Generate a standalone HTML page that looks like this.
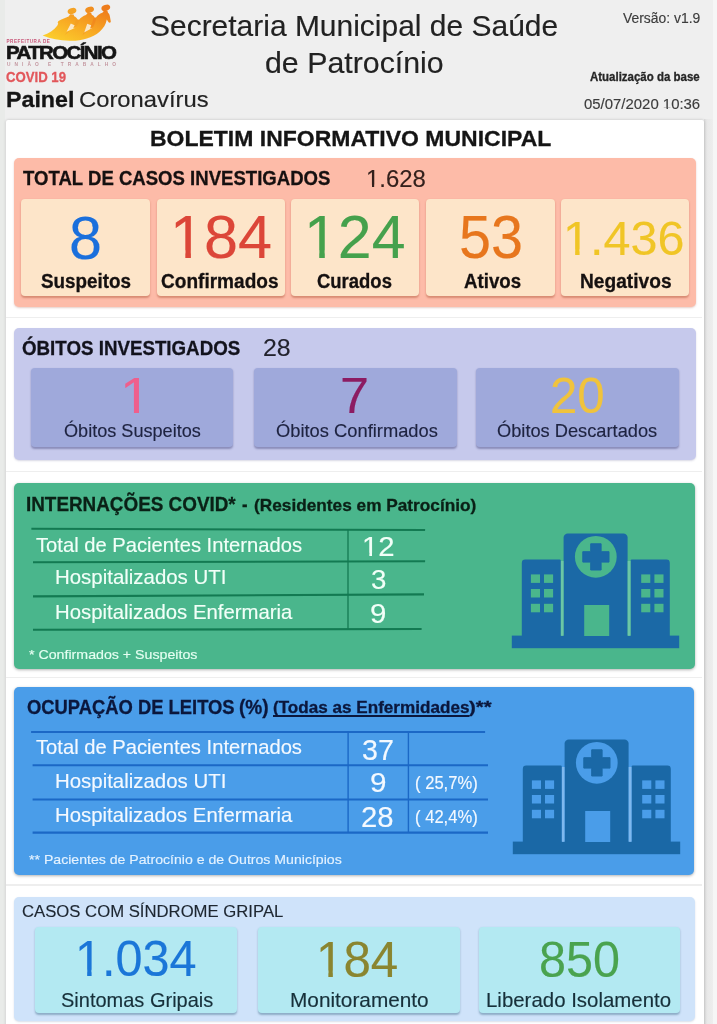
<!DOCTYPE html>
<html><head><meta charset="utf-8"><title>Painel Coronavírus</title>
<style>
*{margin:0;padding:0;box-sizing:border-box}
html,body{width:717px;height:1024px;overflow:hidden;background:#efefef;font-family:"Liberation Sans",sans-serif}
.b{position:absolute}
.t{position:absolute;white-space:nowrap;line-height:1;transform-origin:0 0}
.o{display:inline-block;clip-path:polygon(0 0,100% 0,100% 71.5%,61.4% 71.5%,61.4% 100%,45% 100%,45% 71.5%,0 71.5%)}
</style></head><body><div id="w" style="position:absolute;left:0;top:0;width:717px;height:1024px;overflow:hidden;filter:blur(.45px)">
<div class="b" style="left:0px;top:0px;width:4.5px;height:1024.0px;background:#e9ebe9;border-radius:0px"></div>
<div class="b" style="left:712.5px;top:0px;width:4.5px;height:1024.0px;background:#f6f6f6;border-radius:0px"></div>
<div class="b" style="left:704px;top:119px;width:8.5px;height:905.0px;background:linear-gradient(90deg,#dcdcdc,#e8e8e8 35%,#eeeeee);border-radius:0px"></div>
<div class="b" style="left:5.5px;top:120px;width:698.5px;height:910.0px;background:#ffffff;border-radius:2px;box-shadow:0 0 3px rgba(0,0,0,.22)"></div>
<div class="b" style="left:5.5px;top:316.9px;width:696.5px;height:1.6px;background:#eeeeee;border-radius:0px"></div>
<div class="b" style="left:5.5px;top:470.8px;width:696.5px;height:1.6px;background:#eeeeee;border-radius:0px"></div>
<div class="b" style="left:5.5px;top:676.5px;width:696.5px;height:1.6px;background:#eeeeee;border-radius:0px"></div>
<div class="b" style="left:5.5px;top:884.2px;width:696.5px;height:1.6px;background:#eeeeee;border-radius:0px"></div>
<svg class="b" style="left:0;top:0;filter:blur(.35px)" width="125" height="70" viewBox="0 0 125 70">
<defs><linearGradient id="lg" x1="0" y1="1" x2="1" y2="0"><stop offset="0" stop-color="#fcd62e"/><stop offset=".5" stop-color="#f8ab24"/><stop offset="1" stop-color="#ee7a1b"/></linearGradient></defs>
<path d="M42.6 35.4 C49 33.6 54 30 57.4 25.4 L58.2 23.6 C57.4 22.6 57.6 21.6 59 20.8 C62 19 65.5 17.6 68.6 16.4 L70.2 14.2 L73.6 14.4 L74.2 16.2 C75.6 16.8 76.8 17.8 77.4 19.2 L79 19.8 C80.6 17.6 83.2 16 86 15 L87.6 13 L91.2 13 L91.8 14.8 C93 15.4 94 16.2 94.6 17.4 L96 17.6 C97.4 15.4 99.6 13.8 102.4 12.8 L103.8 11 L107.4 10.8 L108 12.8 C109.2 13.8 109.8 15.2 110 17 L110.8 21.6 C110.6 23.2 109 23 108.2 21.8 L106.8 19.6 C106 24.2 103.4 28.6 99.6 31.8 C92 38.4 80.6 41.2 69.6 40.8 C59.6 40.4 50.6 38.6 42.6 35.4Z" fill="url(#lg)"/>
<path d="M76.2 20 C74 26 70 31 64.6 35.2 L67.4 31.4 L70.6 23.6 L74.4 25 L73.4 27.8 L76 27 C78 24 79 22 79.2 20.2Z" fill="#f39a22" opacity=".55"/>
<path d="M93.6 18 C92 25 88 30.6 82 35.6 L84.6 32.2 L87.4 24 L91.2 25.2 L90.2 28.2 L92.8 27.4 C94.6 24.6 95.6 21.6 96 18.2Z" fill="#ee7f1c" opacity=".55"/>
<path d="M66.6 31.8 L70.8 23.4 L74.6 25.2 L73.2 28.2 L76 27.4 Z M84.2 32.4 L87.2 23.8 L91.2 25.2 L90 28.6 L92.6 27.8 Z" fill="#fbeed6" opacity=".92"/>
<ellipse cx="72" cy="11" rx="4.5" ry="3" fill="#f4a326" transform="rotate(-20 72 11)"/>
<ellipse cx="89.6" cy="9.8" rx="4.5" ry="3" fill="#f18f20" transform="rotate(-20 89.6 9.8)"/>
<ellipse cx="105.8" cy="7.9" rx="4.5" ry="3" fill="#ee7d1c" transform="rotate(-20 105.8 7.9)"/>
</svg>
<div class="t" style="left:6.5px;top:40.4px;font-size:4.6px;font-weight:bold;color:#c9587a;letter-spacing:.55px">PREFEITURA DE</div>
<div class="t" id="patro" style="left:6.2px;top:42.9px;font-size:19.2px;font-weight:bold;color:#151515;letter-spacing:-1.5px;-webkit-text-stroke:.6px #151515;transform:scaleX(1.066)">PATROCÍNIO</div>
<div class="t" style="left:7px;top:62.9px;font-size:4.8px;font-weight:bold;color:#c497a0;letter-spacing:4.05px">UNIÃO E TRABALHO</div>
<div class="b" style="left:14.3px;top:157.6px;width:681.7px;height:149.3px;background:#fdbba8;border-radius:5px;box-shadow:0 1px 2px rgba(150,60,40,.25)"></div>
<div class="b" style="left:21px;top:198.6px;width:128.5px;height:97.0px;background:#fde5c9;border-radius:4px;box-shadow:0 1.5px 2px rgba(170,80,50,.45)"></div>
<div class="b" style="left:156.6px;top:198.6px;width:128.9px;height:97.0px;background:#fde5c9;border-radius:4px;box-shadow:0 1.5px 2px rgba(170,80,50,.45)"></div>
<div class="b" style="left:290.7px;top:198.6px;width:128.8px;height:97.0px;background:#fde5c9;border-radius:4px;box-shadow:0 1.5px 2px rgba(170,80,50,.45)"></div>
<div class="b" style="left:426px;top:198.6px;width:128.6px;height:97.0px;background:#fde5c9;border-radius:4px;box-shadow:0 1.5px 2px rgba(170,80,50,.45)"></div>
<div class="b" style="left:560.6px;top:198.6px;width:128.8px;height:97.0px;background:#fde5c9;border-radius:4px;box-shadow:0 1.5px 2px rgba(170,80,50,.45)"></div>
<div class="b" style="left:14.2px;top:327.7px;width:681.8px;height:132.8px;background:#c6c9ec;border-radius:5px;box-shadow:0 1px 2px rgba(60,60,120,.2)"></div>
<div class="b" style="left:31px;top:367.5px;width:201.6px;height:79.5px;background:#9fa9db;border-radius:4px;box-shadow:0 1.5px 2px rgba(50,50,110,.4)"></div>
<div class="b" style="left:254px;top:367.5px;width:202.8px;height:79.5px;background:#9fa9db;border-radius:4px;box-shadow:0 1.5px 2px rgba(50,50,110,.4)"></div>
<div class="b" style="left:476px;top:367.5px;width:203.2px;height:79.5px;background:#9fa9db;border-radius:4px;box-shadow:0 1.5px 2px rgba(50,50,110,.4)"></div>
<div class="b" style="left:14.2px;top:482.7px;width:680.8px;height:186.3px;background:#4ab68c;border-radius:5px;box-shadow:0 1px 3px rgba(0,0,0,.3)"></div>
<svg class="b" style="left:0;top:520px" width="717" height="120" viewBox="0 520 717 120"><g stroke="#137a52" stroke-width="2.1"><line x1="31.4" y1="528.8" x2="425.1" y2="530"/><line x1="33" y1="562.2" x2="425.1" y2="561.3"/><line x1="33" y1="596.4" x2="424" y2="594.4"/><line x1="33" y1="629.8" x2="421.6" y2="629"/><line x1="348" y1="529" x2="348" y2="629.6" stroke-width="1.3"/></g></svg>
<svg class="b" style="left:0px;top:520px" width="717" height="140" viewBox="0 520 717 140"><rect x="511.8" y="635.6" width="167.4" height="12.6" fill="#1b69a6"/><path d="M521.8 636 V563 a3.4 3.4 0 0 1 3.4 -3.4 H559.6 a1.2 1.2 0 0 1 1.2 1.2 V636Z" fill="#1b69a6"/><path d="M630.6 636 V560.8 a1.2 1.2 0 0 1 1.2 -1.2 H666.4 a3.4 3.4 0 0 1 3.4 3.4 V636Z" fill="#1b69a6"/><path d="M563.6 636 V537.6 a4.2 4.2 0 0 1 4.2 -4.2 H623.4 a4.2 4.2 0 0 1 4.2 4.2 V636Z" fill="#1b69a6"/><rect x="560.9" y="561" width="2.6" height="74.8" fill="#6cc6a6"/><rect x="627.7" y="561" width="2.8" height="74.8" fill="#6cc6a6"/><circle cx="595.8" cy="556.8" r="20.9" fill="#4ab68c"/><path d="M590.7 543.8 h10.4 v7.9 h7.9 v10.4 h-7.9 v7.9 h-10.4 v-7.9 h-7.9 v-10.4 h7.9Z" fill="#1b69a6" stroke="#1b69a6" stroke-width="1" stroke-linejoin="round"/><rect x="584.2" y="605" width="25" height="31" fill="#4ab68c"/><rect x="530.9" y="574.4" width="9.1" height="8.5" fill="#4ab68c"/><rect x="530.9" y="589.0" width="9.1" height="8.5" fill="#4ab68c"/><rect x="530.9" y="603.8" width="9.1" height="8.5" fill="#4ab68c"/><rect x="544.0" y="574.4" width="9.1" height="8.5" fill="#4ab68c"/><rect x="544.0" y="589.0" width="9.1" height="8.5" fill="#4ab68c"/><rect x="544.0" y="603.8" width="9.1" height="8.5" fill="#4ab68c"/><rect x="641.2" y="574.4" width="9.1" height="8.5" fill="#4ab68c"/><rect x="641.2" y="589.0" width="9.1" height="8.5" fill="#4ab68c"/><rect x="641.2" y="603.8" width="9.1" height="8.5" fill="#4ab68c"/><rect x="654.4" y="574.4" width="9.1" height="8.5" fill="#4ab68c"/><rect x="654.4" y="589.0" width="9.1" height="8.5" fill="#4ab68c"/><rect x="654.4" y="603.8" width="9.1" height="8.5" fill="#4ab68c"/></svg>
<div class="b" style="left:14.2px;top:686.8px;width:680.3px;height:187.8px;background:#4a9de9;border-radius:5px;box-shadow:0 1px 3px rgba(0,0,0,.3)"></div>
<svg class="b" style="left:0;top:722px" width="717" height="120" viewBox="0 722 717 120"><g stroke="#1b68c6" stroke-width="2.1"><line x1="31.1" y1="732" x2="485.1" y2="732"/><line x1="32.6" y1="765.2" x2="488" y2="765.2"/><line x1="32.6" y1="799.5" x2="488" y2="799.5"/><line x1="32.6" y1="832.6" x2="488" y2="832.6"/><line x1="348.1" y1="731" x2="348.1" y2="833" stroke-width="1.4"/><line x1="408.4" y1="731" x2="408.4" y2="833" stroke-width="1.4"/></g></svg>
<svg class="b" style="left:1px;top:726.2px" width="717" height="140" viewBox="0 520 717 140"><rect x="511.8" y="635.6" width="167.4" height="12.6" fill="#1a68a6"/><path d="M521.8 636 V563 a3.4 3.4 0 0 1 3.4 -3.4 H559.6 a1.2 1.2 0 0 1 1.2 1.2 V636Z" fill="#1a68a6"/><path d="M630.6 636 V560.8 a1.2 1.2 0 0 1 1.2 -1.2 H666.4 a3.4 3.4 0 0 1 3.4 3.4 V636Z" fill="#1a68a6"/><path d="M563.6 636 V537.6 a4.2 4.2 0 0 1 4.2 -4.2 H623.4 a4.2 4.2 0 0 1 4.2 4.2 V636Z" fill="#1a68a6"/><rect x="560.9" y="561" width="2.6" height="74.8" fill="#7fb8ee"/><rect x="627.7" y="561" width="2.8" height="74.8" fill="#7fb8ee"/><circle cx="595.8" cy="556.8" r="20.9" fill="#4a9de9"/><path d="M590.7 543.8 h10.4 v7.9 h7.9 v10.4 h-7.9 v7.9 h-10.4 v-7.9 h-7.9 v-10.4 h7.9Z" fill="#1a68a6" stroke="#1a68a6" stroke-width="1" stroke-linejoin="round"/><rect x="584.2" y="605" width="25" height="31" fill="#4a9de9"/><rect x="530.9" y="574.4" width="9.1" height="8.5" fill="#4a9de9"/><rect x="530.9" y="589.0" width="9.1" height="8.5" fill="#4a9de9"/><rect x="530.9" y="603.8" width="9.1" height="8.5" fill="#4a9de9"/><rect x="544.0" y="574.4" width="9.1" height="8.5" fill="#4a9de9"/><rect x="544.0" y="589.0" width="9.1" height="8.5" fill="#4a9de9"/><rect x="544.0" y="603.8" width="9.1" height="8.5" fill="#4a9de9"/><rect x="641.2" y="574.4" width="9.1" height="8.5" fill="#4a9de9"/><rect x="641.2" y="589.0" width="9.1" height="8.5" fill="#4a9de9"/><rect x="641.2" y="603.8" width="9.1" height="8.5" fill="#4a9de9"/><rect x="654.4" y="574.4" width="9.1" height="8.5" fill="#4a9de9"/><rect x="654.4" y="589.0" width="9.1" height="8.5" fill="#4a9de9"/><rect x="654.4" y="603.8" width="9.1" height="8.5" fill="#4a9de9"/></svg>
<div class="b" style="left:14.2px;top:896.8px;width:681.0px;height:124.4px;background:#cfe3fa;border-radius:5px;box-shadow:0 1px 2px rgba(60,90,140,.2)"></div>
<div class="b" style="left:35px;top:927px;width:201.5px;height:85.7px;background:#b3e9f2;border-radius:4px;box-shadow:0 1.5px 2px rgba(40,90,120,.4)"></div>
<div class="b" style="left:258.4px;top:927px;width:201.9px;height:85.7px;background:#b3e9f2;border-radius:4px;box-shadow:0 1.5px 2px rgba(40,90,120,.4)"></div>
<div class="b" style="left:478.6px;top:927px;width:201.9px;height:85.7px;background:#b3e9f2;border-radius:4px;box-shadow:0 1.5px 2px rgba(40,90,120,.4)"></div>
<div class="t" style="left:150.06px;top:10.55px;font-size:29.36px;color:#222;transform:scaleX(1.0207);-webkit-text-stroke:.15px #222">Secretaria Municipal de Saúde</div>
<div class="t" style="left:264.55px;top:47.55px;font-size:29.36px;color:#222;transform:scaleX(1.0328);-webkit-text-stroke:.15px #222">de Patrocínio</div>
<div class="t" style="left:623.20px;top:10.62px;font-size:14.39px;color:#3c3c3c;transform:scaleX(0.9671);-webkit-text-stroke:.15px #3c3c3c">Versão: v1.9</div>
<div class="t" style="left:590.12px;top:71.29px;font-size:12.06px;color:#262626;transform:scaleX(0.9521);font-weight:bold;-webkit-text-stroke:.3px #262626">Atualização da base</div>
<div class="t" style="left:584.13px;top:97.42px;font-size:14.86px;color:#3c3c3c;transform:scaleX(1.0042);-webkit-text-stroke:.15px #3c3c3c">05/07/2020 <span class="o">1</span>0:36</div>
<div class="t" style="left:6.29px;top:70.99px;font-size:13.95px;color:#e2575b;transform:scaleX(0.9444);font-weight:bold;-webkit-text-stroke:.3px #e2575b">COVID 19</div>
<div class="t" style="left:5.95px;top:88.75px;font-size:21.8px;color:#151515;transform:scaleX(1.0655);font-weight:bold;-webkit-text-stroke:.3px #151515">Painel</div>
<div class="t" style="left:79.19px;top:88.75px;font-size:21.8px;color:#222;transform:scaleX(1.0911);-webkit-text-stroke:.15px #222">Coronavírus</div>
<div class="t" style="left:149.86px;top:126.51px;font-size:22.67px;color:#151515;transform:scaleX(1.0143);font-weight:bold;-webkit-text-stroke:.3px #151515">BOLETIM INFORMATIVO MUNICIPAL</div>
<div class="t" style="left:22.50px;top:167.77px;font-size:20.35px;color:#161010;transform:scaleX(0.9125);font-weight:bold;-webkit-text-stroke:.3px #161010">TOTAL DE CASOS INVESTIGADOS</div>
<div class="t" style="left:365.63px;top:167.83px;font-size:23.71px;color:#33201c;transform:scaleX(1.0086);-webkit-text-stroke:.15px #33201c"><span class="o">1</span>.628</div>
<div class="t" style="left:69.15px;top:206.70px;font-size:61.43px;color:#1a6fdc;transform:scaleX(0.9645);-webkit-text-stroke:.15px #1a6fdc">8</div>
<div class="t" style="left:169.95px;top:206.40px;font-size:61.43px;color:#dc4638;transform:scaleX(0.9959);-webkit-text-stroke:.15px #dc4638"><span class="o">1</span>84</div>
<div class="t" style="left:304.38px;top:206.40px;font-size:61.43px;color:#45a14c;transform:scaleX(0.9907);-webkit-text-stroke:.15px #45a14c"><span class="o">1</span>24</div>
<div class="t" style="left:458.80px;top:206.40px;font-size:61.43px;color:#e7761d;transform:scaleX(0.9371);-webkit-text-stroke:.15px #e7761d">53</div>
<div class="t" style="left:562.60px;top:214.44px;font-size:48.86px;color:#f0c526;transform:scaleX(0.9926);-webkit-text-stroke:.15px #f0c526"><span class="o">1</span>.436</div>
<div class="t" style="left:41.21px;top:272.46px;font-size:19.77px;color:#151010;transform:scaleX(0.9532);font-weight:bold;-webkit-text-stroke:.3px #151010">Suspeitos</div>
<div class="t" style="left:161.20px;top:272.46px;font-size:19.77px;color:#151010;transform:scaleX(0.9643);font-weight:bold;-webkit-text-stroke:.3px #151010">Confirmados</div>
<div class="t" style="left:317.22px;top:272.46px;font-size:19.77px;color:#151010;transform:scaleX(0.9344);font-weight:bold;-webkit-text-stroke:.3px #151010">Curados</div>
<div class="t" style="left:463.71px;top:272.46px;font-size:19.77px;color:#151010;transform:scaleX(0.9442);font-weight:bold;-webkit-text-stroke:.3px #151010">Ativos</div>
<div class="t" style="left:579.50px;top:272.46px;font-size:19.77px;color:#151010;transform:scaleX(0.9692);font-weight:bold;-webkit-text-stroke:.3px #151010">Negativos</div>
<div class="t" style="left:22.11px;top:337.72px;font-size:20.06px;color:#12121c;transform:scaleX(0.9345);font-weight:bold;-webkit-text-stroke:.3px #12121c">ÓBITOS INVESTIGADOS</div>
<div class="t" style="left:263.13px;top:337.13px;font-size:23.71px;color:#22222c;transform:scaleX(1.0494);-webkit-text-stroke:.15px #22222c">28</div>
<div class="t" style="left:119.61px;top:371.28px;font-size:49.29px;color:#ee5f8c;transform:scaleX(1.1298);-webkit-text-stroke:.15px #ee5f8c"><span class="o">1</span></div>
<div class="t" style="left:340.25px;top:370.88px;font-size:49.29px;color:#8c1c62;transform:scaleX(1.0604);-webkit-text-stroke:.15px #8c1c62">7</div>
<div class="t" style="left:549.69px;top:371.28px;font-size:49.29px;color:#f0c33c;transform:scaleX(0.9983);-webkit-text-stroke:.15px #f0c33c">20</div>
<div class="t" style="left:64.35px;top:422.32px;font-size:18.17px;color:#1e2340;transform:scaleX(0.9968);-webkit-text-stroke:.15px #1e2340">Óbitos Suspeitos</div>
<div class="t" style="left:275.94px;top:422.32px;font-size:18.17px;color:#1e2340;transform:scaleX(1.0091);-webkit-text-stroke:.15px #1e2340">Óbitos Confirmados</div>
<div class="t" style="left:496.94px;top:422.32px;font-size:18.17px;color:#1e2340;transform:scaleX(1.0048);-webkit-text-stroke:.15px #1e2340">Óbitos Descartados</div>
<div class="t" style="left:26.22px;top:495.46px;font-size:19.77px;color:#0a2016;transform:scaleX(0.9548);font-weight:bold;-webkit-text-stroke:.3px #0a2016">INTERNAÇÕES COVID*</div>
<div class="t" style="left:242.08px;top:495.46px;font-size:19.77px;color:#0a2016;transform:scaleX(0.8379);font-weight:bold;-webkit-text-stroke:.3px #0a2016">-</div>
<div class="t" style="left:253.69px;top:498.07px;font-size:16.57px;color:#0a2016;transform:scaleX(1.0412);font-weight:bold;-webkit-text-stroke:.3px #0a2016">(Residentes em Patrocínio)</div>
<div class="t" style="left:36.48px;top:534.68px;font-size:20.93px;color:#f2fff8;transform:scaleX(0.9651);-webkit-text-stroke:.15px #f2fff8">Total de Pacientes Internados</div>
<div class="t" style="left:55.40px;top:567.28px;font-size:20.93px;color:#f2fff8;transform:scaleX(0.9761);-webkit-text-stroke:.15px #f2fff8">Hospitalizados UTI</div>
<div class="t" style="left:55.41px;top:601.68px;font-size:20.93px;color:#f2fff8;transform:scaleX(0.9720);-webkit-text-stroke:.15px #f2fff8">Hospitalizados Enfermaria</div>
<div class="t" style="left:361.88px;top:532.70px;font-size:28.0px;color:#f2fff8;transform:scaleX(1.0469);-webkit-text-stroke:.15px #f2fff8"><span class="o">1</span>2</div>
<div class="t" style="left:370.94px;top:565.70px;font-size:28.0px;color:#f2fff8;transform:scaleX(0.9880);-webkit-text-stroke:.15px #f2fff8">3</div>
<div class="t" style="left:370.42px;top:600.30px;font-size:28.0px;color:#f2fff8;transform:scaleX(1.0514);-webkit-text-stroke:.15px #f2fff8">9</div>
<div class="t" style="left:28.58px;top:648.08px;font-size:13.37px;color:#e6fff2;transform:scaleX(1.0624);-webkit-text-stroke:.15px #e6fff2">* Confirmados + Suspeitos</div>
<div class="t" style="left:26.83px;top:697.86px;font-size:19.77px;color:#0b173c;transform:scaleX(0.9298);font-weight:bold;-webkit-text-stroke:.3px #0b173c">OCUPAÇÃO DE LEITOS</div>
<div class="t" style="left:238.91px;top:697.86px;font-size:19.77px;color:#0b173c;transform:scaleX(0.9655);font-weight:bold;-webkit-text-stroke:.3px #0b173c">(%)</div>
<div class="t" style="left:273.20px;top:699.67px;font-size:16.57px;color:#0b173c;transform:scaleX(1.0325);font-weight:bold;-webkit-text-stroke:.3px #0b173c;text-decoration:underline;text-decoration-thickness:1.6px;text-underline-offset:1.6px;text-decoration-skip-ink:none">(Todas as Enfermidades</div>
<div class="t" style="left:469.00px;top:699.67px;font-size:16.57px;color:#0b173c;transform:scaleX(1.2257);font-weight:bold;-webkit-text-stroke:.3px #0b173c">)**</div>
<div class="t" style="left:36.48px;top:737.13px;font-size:20.64px;color:#f4f9ff;transform:scaleX(0.9787);-webkit-text-stroke:.15px #f4f9ff">Total de Pacientes Internados</div>
<div class="t" style="left:55.40px;top:770.63px;font-size:20.64px;color:#f4f9ff;transform:scaleX(0.9898);-webkit-text-stroke:.15px #f4f9ff">Hospitalizados UTI</div>
<div class="t" style="left:55.41px;top:805.03px;font-size:20.64px;color:#f4f9ff;transform:scaleX(0.9857);-webkit-text-stroke:.15px #f4f9ff">Hospitalizados Enfermaria</div>
<div class="t" style="left:361.91px;top:735.57px;font-size:28.86px;color:#f4f9ff;transform:scaleX(0.9924);-webkit-text-stroke:.15px #f4f9ff">37</div>
<div class="t" style="left:369.51px;top:768.05px;font-size:28.29px;color:#f4f9ff;transform:scaleX(1.0482);-webkit-text-stroke:.15px #f4f9ff">9</div>
<div class="t" style="left:361.43px;top:803.27px;font-size:28.86px;color:#f4f9ff;transform:scaleX(1.0142);-webkit-text-stroke:.15px #f4f9ff">28</div>
<div class="t" style="left:415.02px;top:774.71px;font-size:17.71px;color:#f4f9ff;transform:scaleX(0.9389);-webkit-text-stroke:.15px #f4f9ff">( 25,7%)</div>
<div class="t" style="left:415.02px;top:808.71px;font-size:17.71px;color:#f4f9ff;transform:scaleX(0.9389);-webkit-text-stroke:.15px #f4f9ff">( 42,4%)</div>
<div class="t" style="left:28.78px;top:853.08px;font-size:13.37px;color:#e4f2ff;transform:scaleX(1.0554);-webkit-text-stroke:.15px #e4f2ff">** Pacientes de Patrocínio e de Outros Municípios</div>
<div class="t" style="left:22.12px;top:903.83px;font-size:16.86px;color:#1d2630;transform:scaleX(0.9903);-webkit-text-stroke:.15px #1d2630">CASOS COM SÍNDROME GRIPAL</div>
<div class="t" style="left:74.59px;top:934.07px;font-size:50.0px;color:#1b76d8;transform:scaleX(0.9720);-webkit-text-stroke:.15px #1b76d8"><span class="o">1</span>.034</div>
<div class="t" style="left:316.33px;top:934.67px;font-size:50.0px;color:#8a8530;transform:scaleX(0.9865);-webkit-text-stroke:.15px #8a8530"><span class="o">1</span>84</div>
<div class="t" style="left:539.08px;top:934.67px;font-size:50.0px;color:#4aa34f;transform:scaleX(0.9700);-webkit-text-stroke:.15px #4aa34f">850</div>
<div class="t" style="left:61.27px;top:990.91px;font-size:19.48px;color:#17303a;transform:scaleX(1.0272);-webkit-text-stroke:.15px #17303a">Sintomas Gripais</div>
<div class="t" style="left:289.57px;top:990.91px;font-size:19.48px;color:#17303a;transform:scaleX(1.0680);-webkit-text-stroke:.15px #17303a">Monitoramento</div>
<div class="t" style="left:486.40px;top:991.01px;font-size:19.48px;color:#17303a;transform:scaleX(1.0493);-webkit-text-stroke:.15px #17303a">Liberado Isolamento</div>
</div></body></html>
